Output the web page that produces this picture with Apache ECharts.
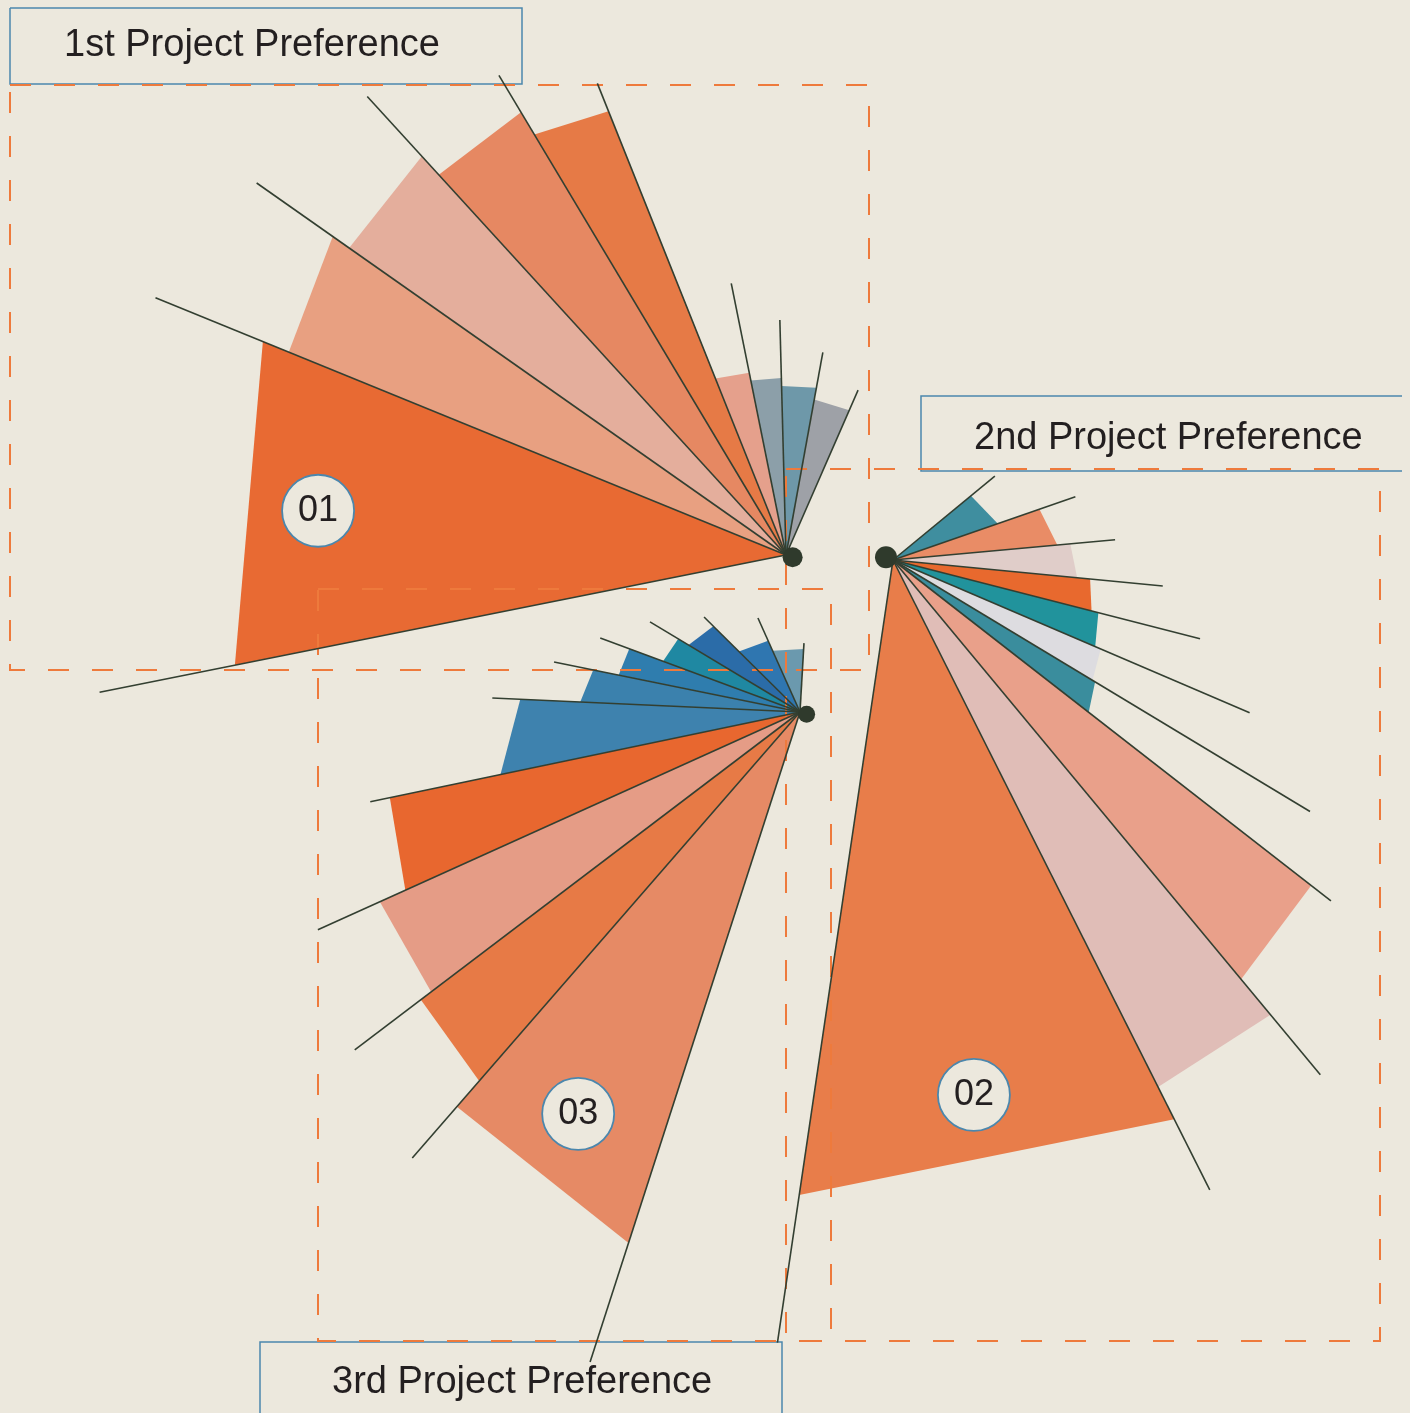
<!DOCTYPE html>
<html>
<head>
<meta charset="utf-8">
<title>Project Preference</title>
<script src="https://cdn.jsdelivr.net/npm/echarts/dist/echarts.min.js"></script>
<style>
  html, body { margin: 0; padding: 0; background: #ece8dd; }
  #chart { width: 1410px; height: 1413px; }
</style>
</head>
<body>
<div id="chart"></div>
<script>
  // ---- data (angles in degrees, counter-clockwise from 3 o'clock; lengths in axis units) ----
  const titles = ['1st Project Preference', '2nd Project Preference', '3rd Project Preference'];
  const badgeLabels = ['01', '02', '03'];

  // 1st preference: slice edges, slice reach at its first / second edge, spoke lengths
  const fan1Edges = [191.3, 157.8, 144.9, 132.4, 120.9, 111.8, 101.4, 91.5, 79.7, 66.4];
  const fan1ReachA = [562, 537, 534, 515, 490, 190, 178, 169, 158];
  const fan1ReachB = [565, 554, 540, 516, 478, 186, 177, 170, 158];
  const fan1Rays = [700, 681, 647, 621, 559, 508, 277, 235, 206, 180];

  // 2nd preference
  const fan2Edges = [39.5, 19.1, 5.2, -5.5, -14.4, -23.2, -31.1, -37.9, -50.3, -63.3, -98.4];
  const fan2ReachA = [101, 155, 178, 198, 212, 226, 236, 530, 591, 626];
  const fan2ReachB = [111, 165, 185, 205, 220, 233, 248, 545, 590, 642];
  const fan2Rays = [132, 193, 223, 271, 317, 388, 487, 555, 669, 705, 791];

  // 3rd preference
  const fan3Edges = [86.7, 114.1, 135.3, 149.0, 159.7, 168.5, 177.4, 191.8, 204.3, 217.2, 229.0, 252.1];
  const fan3ReachA = [63, 78, 122, 142, 182, 211, 280, 419, 461, 476, 523];
  const fan3ReachB = [67, 86, 130, 146, 185, 220, 306, 433, 463, 489, 558];
  const fan3Rays = [69, 103, 135, 175, 213, 251, 308, 439, 529, 559, 591, 683];

  // badge position inside the biggest slice: [radius, angle]
  const badgeRadius = [470, 541, 459];
  const badgeAngle = [174.6, -81.4, 241.1];
  // hub dot sits a little off the fan origin
  const hubRadius = [7, 7.5, 7];
  const hubAngle = [-19, 159, -19];

  // ---- styling ----
  const fan1Colors = ['#e86a33', '#e8a081', '#e4ae9c', '#e68862', '#e67a46', '#e5a08c', '#8c9fa9', '#6e98a9', '#9ea1a7'];
  const fan2Colors = ['#3f8e9f', '#e98c66', '#e0cdc9', '#e8692e', '#21939c', '#dddce0', '#3a8d9d', '#e9a08a', '#e0bdb7', '#e87d4a'];
  const fan3Colors = ['#6b99ae', '#2f76b0', '#2b6ca8', '#1f88a2', '#2f7dae', '#3b81ad', '#3e82ae', '#e8672f', '#e59c86', '#e77a46', '#e68a65'];

  const BG = '#ece8dd';
  const INK = '#231f20';
  const RAY = '#333f31';
  const DASH = '#ee7a3c';
  const FRAME = '#4b87ad';
  const FONT = '"Liberation Sans", Arial, Helvetica, sans-serif';

  const fans = [
    {edges: fan1Edges, reachA: fan1ReachA, reachB: fan1ReachB, rays: fan1Rays, colors: fan1Colors, center: [786, 555], angleMin: 0, angleMax: 360, start: 0, hub: 20},
    {edges: fan2Edges, reachA: fan2ReachA, reachB: fan2ReachB, rays: fan2Rays, colors: fan2Colors, center: [893, 560], angleMin: -180, angleMax: 180, start: 180, hub: 22},
    {edges: fan3Edges, reachA: fan3ReachA, reachB: fan3ReachB, rays: fan3Rays, colors: fan3Colors, center: [800, 712], angleMin: 0, angleMax: 360, start: 0, hub: 17}
  ];

  // slice = triangle from the origin to its two edge tips (straight outer side, like the original)
  function renderSlice(params, api) {
    const cs = params.coordSys;
    const p0 = api.coord([api.value(2), api.value(0)]);
    const p1 = api.coord([api.value(3), api.value(1)]);
    return {
      type: 'polygon',
      shape: { points: [[cs.cx, cs.cy], p0, p1] },
      style: { fill: api.visual('color') }
    };
  }

  // thin spoke from the origin out along an edge
  function renderRay(params, api) {
    const cs = params.coordSys;
    const p = api.coord([api.value(1), api.value(0)]);
    return {
      type: 'line',
      shape: { x1: cs.cx, y1: cs.cy, x2: p[0], y2: p[1] },
      style: { stroke: RAY, lineWidth: 1.6 }
    };
  }

  function dashedBox(x, y, w, h) {
    return {
      type: 'rect', z: 3,
      shape: { x: x, y: y, width: w, height: h },
      style: { fill: 'none', stroke: DASH, lineWidth: 2, lineDash: [21, 23] },
      silent: true
    };
  }

  function label(text, tx, ty) {
    return {
      type: 'text', z: 3,
      style: {
        text: text, x: tx, y: ty, fill: INK, font: '38px ' + FONT,
        align: 'left', verticalAlign: 'middle', textAlign: 'left', textVerticalAlign: 'middle'
      },
      silent: true
    };
  }

  function frame(points) {
    return {
      type: 'polyline', z: 3,
      shape: { points: points },
      style: { fill: 'none', stroke: FRAME, lineWidth: 1.5 },
      silent: true
    };
  }

  function getChartOpts() {
    const polar = [], angleAxis = [], radiusAxis = [], series = [];

    fans.forEach((fan, i) => {
      polar.push({ center: fan.center, radius: 1000 });
      angleAxis.push({
        polarIndex: i, type: 'value', min: fan.angleMin, max: fan.angleMax,
        startAngle: fan.start, clockwise: false, show: false
      });
      radiusAxis.push({ polarIndex: i, type: 'value', min: 0, max: 1000, show: false });

      const slices = fan.reachA.map((r, k) => ({
        value: [fan.edges[k], fan.edges[k + 1], r, fan.reachB[k]],
        itemStyle: { color: fan.colors[k] }
      }));
      const rays = fan.rays.map((len, k) => [fan.edges[k], len]);

      series.push({
        type: 'custom', coordinateSystem: 'polar', polarIndex: i, z: 2,
        renderItem: renderSlice, data: slices, silent: true
      });
      series.push({
        type: 'custom', coordinateSystem: 'polar', polarIndex: i, z: 4,
        renderItem: renderRay, data: rays, silent: true
      });
      series.push({
        type: 'scatter', coordinateSystem: 'polar', polarIndex: i, z: 5,
        symbol: 'circle', symbolSize: fan.hub,
        itemStyle: { color: '#2f3a2c', opacity: 1 },
        data: [[hubRadius[i], hubAngle[i]]], silent: true
      });
      series.push({
        type: 'scatter', coordinateSystem: 'polar', polarIndex: i, z: 6,
        symbol: 'circle', symbolSize: 72,
        itemStyle: { color: BG, borderColor: FRAME, borderWidth: 1.8, opacity: 1 },
        label: {
          show: true, position: 'inside', formatter: '{b}',
          color: INK, fontSize: 36, fontFamily: FONT
        },
        data: [{ name: badgeLabels[i], value: [badgeRadius[i], badgeAngle[i]] }],
        silent: true
      });
    });

    return {
      backgroundColor: BG,
      animation: false,
      polar: polar,
      angleAxis: angleAxis,
      radiusAxis: radiusAxis,
      graphic: [
        // title frames first so the dashes sit on top of them
        frame([[10, 8], [522, 8], [522, 84], [10, 84], [10, 8]]),
        frame([[1402, 396], [921, 396], [921, 471], [1402, 471]]),
        frame([[260, 1420], [260, 1342], [782, 1342], [782, 1420]]),
        dashedBox(10, 85, 859, 585),
        dashedBox(786, 469, 594, 872),
        dashedBox(318, 589, 513, 752),
        label(titles[0], 64, 46),
        label(titles[1], 974, 439),
        label(titles[2], 332, 1383)
      ],
      series: series
    };
  }

  const chartDom = document.getElementById('chart');
  const chartObj = echarts.init(chartDom, null, { renderer: 'canvas' });
  chartObj.setOption(getChartOpts());
</script>
</body>
</html>
